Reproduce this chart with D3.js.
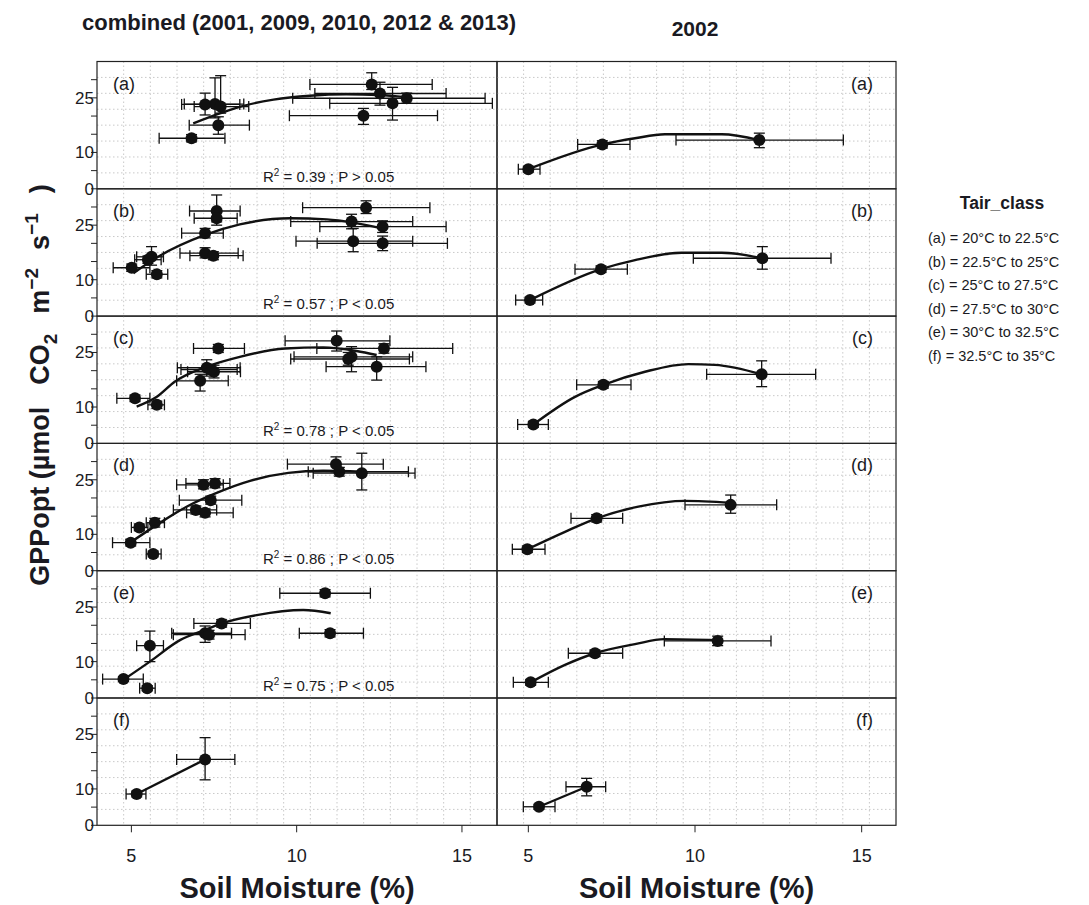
<!DOCTYPE html>
<html><head><meta charset="utf-8">
<script src="https://cdn.jsdelivr.net/npm/d3@7"></script>
<style>
body{margin:0;background:#fff}
text{font-family:Arial,"Liberation Sans",Helvetica,sans-serif;fill:#1a1a22}
</style>
</head><body><svg id="c" width="1089" height="905"></svg>
<script>
// ---------------- DATA ----------------
const classLabels = ["(a)","(b)","(c)","(d)","(e)","(f)"];
const legendLabels = ["(a) = 20°C to 22.5°C","(b) = 22.5°C to 25°C","(c) = 25°C to 27.5°C",
                      "(d) = 27.5°C to 30°C","(e) = 30°C to 32.5°C","(f) = 32.5°C to 35°C"];
const r2Values = ["0.39","0.57","0.78","0.86","0.75",null];
const pValues  = ["P > 0.05","P < 0.05","P < 0.05","P < 0.05","P < 0.05",null];
const xTickValues = [5,10,15];
const yTickValues = [0,5,10,15,20,25,30];
const yTickLabels = [0,10,25];

// combined (2001, 2009, 2010, 2012 & 2013)
const combSM = [
 [12.27,12.52,13.33,12.90,12.02,7.23,7.53,7.70,7.63,6.82],
 [5.01,5.61,5.77,5.50,7.23,7.58,7.58,7.23,7.48,12.10,11.66,12.60,11.71,12.60],
 [5.11,5.77,7.63,7.08,7.28,7.50,7.40,11.21,12.64,11.66,11.56,12.42],
 [4.98,5.24,5.71,5.66,7.18,7.53,7.40,6.95,7.23,11.19,11.29,11.97],
 [4.76,5.48,5.56,7.23,7.35,7.73,10.86,11.01],
 [5.16,7.23]
];
const combGPP = [
 [28.7,26.2,24.9,23.5,20.1,23.2,23.3,22.6,17.5,13.9],
 [13.3,16.3,11.5,15.5,22.8,28.9,26.9,17.3,16.6,29.8,26.0,24.6,20.6,20.0],
 [12.4,10.6,26.1,17.2,20.8,19.7,20.3,28.2,26.1,23.8,23.2,21.1],
 [7.7,11.9,13.2,4.6,23.6,24.0,19.4,16.7,15.9,29.3,27.2,26.8],
 [5.2,2.7,14.4,17.8,17.4,20.5,28.8,17.8],
 [8.6,18.1]
];
const combSMlo = [
 [10.40,10.55,9.88,11.00,9.78,6.52,6.60,6.90,6.75,5.84],
 [4.45,5.16,5.45,5.10,6.52,6.76,6.90,6.47,6.77,10.18,9.82,10.70,9.98,10.62],
 [4.56,5.50,6.88,6.37,6.39,6.70,6.50,9.65,10.61,9.92,9.82,10.89],
 [4.43,5.00,5.45,5.45,6.37,6.65,6.45,6.27,6.67,9.72,10.35,10.50],
 [4.13,5.25,5.16,6.22,6.27,6.89,9.49,10.08],
 [4.84,6.37]
];
const combSMhi = [
 [14.10,14.52,15.70,15.92,14.26,8.28,8.40,8.55,8.57,7.83],
 [5.56,5.97,6.10,5.90,7.78,8.29,8.20,8.23,8.38,14.03,13.51,14.52,13.51,14.56],
 [5.56,6.00,8.42,7.93,8.29,8.30,8.20,12.82,14.72,13.51,13.41,13.91],
 [5.56,5.50,6.00,5.90,7.78,7.98,8.34,7.58,8.08,12.62,13.38,13.58],
 [5.36,5.72,5.97,8.03,8.44,8.60,12.23,12.02],
 [5.44,8.13]
];
const combGPPlo = [
 [27.3,23.0,23.5,18.9,17.7,20.3,19.5,20.8,15.0,12.9],
 [12.3,14.0,10.5,14.5,21.5,25.9,25.0,16.0,15.5,28.2,24.0,23.0,17.7,18.0],
 [11.5,9.6,25.0,14.4,18.5,18.0,19.0,25.4,24.8,19.7,21.5,17.4],
 [6.8,11.0,12.0,3.8,22.5,22.8,18.3,15.6,14.8,27.2,26.0,22.2],
 [4.5,2.0,10.0,15.3,16.2,19.5,27.8,16.8],
 [7.8,12.5]
];
const combGPPhi = [
 [31.9,29.3,26.3,27.9,22.1,26.3,30.5,31.1,19.8,14.9],
 [14.3,19.1,12.5,16.5,24.1,33.3,28.5,18.8,17.7,31.7,28.0,26.2,24.1,22.0],
 [13.3,11.6,27.2,19.0,23.0,21.5,21.6,30.9,27.4,26.6,25.0,23.8],
 [8.6,12.8,14.4,5.4,25.0,25.3,20.5,17.8,17.0,31.3,28.4,32.3],
 [5.9,3.4,18.4,19.8,18.6,21.5,29.8,18.8],
 [9.4,24.1]
];
const combFitSM = [
 [6.87,7.7,8.3,9.3,10.4,11.5,12.5,13.3],
 [5.06,5.77,7.23,8.28,9.80,10.91,11.71,12.57],
 [5.16,5.77,6.32,7.28,8.28,9.65,10.80,11.81,12.42],
 [5.01,5.77,6.67,7.58,8.59,9.75,10.80,11.97],
 [4.76,5.56,6.47,7.23,7.73,8.79,10.20,11.03],
 [5.16,7.23]
];
const combFitGPP = [
 [18.0,20.8,22.6,24.5,25.6,26.0,25.8,25.2],
 [11.8,16.1,22.3,25.2,26.9,26.6,25.7,24.1],
 [10.1,12.8,17.0,21.1,23.8,26.1,26.4,25.4,24.3],
 [8.0,12.6,17.6,21.4,24.7,26.9,27.5,27.2],
 [5.0,10.0,15.9,18.7,20.5,22.8,24.2,23.3],
 [8.6,18.1]
];

// 2002
const y02SM     = [[5.00,7.22,11.93],[5.05,7.18,12.02],[5.15,7.25,12.00],[4.97,7.05,11.07],[5.07,7.00,10.68],[5.32,6.75]];
const y02GPP    = [[5.4,12.2,13.4],[4.4,12.9,15.9],[5.2,16.1,19.0],[5.9,14.4,18.1],[4.3,12.3,15.7],[5.1,10.6]];
const y02SMlo   = [[4.70,6.48,9.43],[4.62,6.40,9.95],[4.68,6.45,10.35],[4.52,6.28,9.70],[4.55,6.20,9.08],[4.85,6.13]];
const y02SMhi   = [[5.35,8.05,14.45],[5.43,7.97,14.08],[5.60,8.08,13.62],[5.50,7.83,12.45],[5.60,7.83,12.28],[5.80,7.32]];
const y02GPPlo  = [[4.6,11.2,11.3],[3.6,12.0,12.9],[4.4,15.2,15.6],[5.0,13.4,15.8],[3.5,11.4,14.4],[4.4,8.1]];
const y02GPPhi  = [[6.2,13.2,15.3],[5.2,13.8,19.1],[6.0,17.0,22.7],[6.8,15.4,20.8],[5.1,13.2,17.0],[5.8,12.9]];
const y02FitSM  = [
 [5.00,7.22,8.2,9.1,10.8,11.93],
 [5.05,7.18,8.2,9.6,10.8,12.02],
 [5.15,6.4,7.25,8.5,9.8,10.6,12.0],
 [4.97,6.10,7.05,8.30,9.70,11.07],
 [5.07,6.10,7.00,8.20,9.08,10.68],
 [5.32,6.75]
];
const y02FitGPP = [
 [5.4,12.2,13.9,15.0,15.0,13.4],
 [4.4,12.9,15.4,17.4,17.4,15.9],
 [5.2,12.8,16.1,19.7,21.8,21.6,19.0],
 [5.9,10.7,14.4,17.6,19.2,18.7],
 [4.3,9.1,12.3,14.8,16.2,15.9],
 [5.1,10.6]
];

// ---------------- LAYOUT ----------------
const svg = d3.select("#c");
const colX = [[97,497],[497,896]];
const xDomains = [[3.96,16.06],[4.06,16.03]];
const top0 = 61.5, rowH = 127.3;
const ink = "#111";

const columns = [
  {sm:combSM,gpp:combGPP,smLo:combSMlo,smHi:combSMhi,gLo:combGPPlo,gHi:combGPPhi,fx:combFitSM,fy:combFitGPP},
  {sm:y02SM,gpp:y02GPP,smLo:y02SMlo,smHi:y02SMhi,gLo:y02GPPlo,gHi:y02GPPhi,fx:y02FitSM,fy:y02FitGPP}
];

columns.forEach((col, c) => {
  const x = d3.scaleLinear().domain(xDomains[c]).range(colX[c]);
  for (let r = 0; r < 6; r++) {
    const y = d3.scaleLinear().domain([0,35]).range([top0+(r+1)*rowH, top0+r*rowH]);
    const g = svg.append("g");
    const [x0,x1] = colX[c];
    const yb = top0+(r+1)*rowH, yt = top0+r*rowH;
    // grid
    const gg = g.append("g").attr("stroke","#c9c9c9").attr("stroke-width",1).attr("stroke-dasharray","1.5,2.5");
    d3.range(1,15).forEach(k=>{
      const px = x0 + k*(x1-x0)/15;
      gg.append("line").attr("x1",px).attr("x2",px).attr("y1",yt).attr("y2",yb);
    });
    d3.range(1,8).forEach(k=>{
      const py = y(k*35/8);
      gg.append("line").attr("x1",x0).attr("x2",x1).attr("y1",py).attr("y2",py);
    });
    // data
    const pts = col.sm[r].map((v,i)=>({sm:v,gpp:col.gpp[r][i],sl:col.smLo[r][i],sh:col.smHi[r][i],gl:col.gLo[r][i],gh:col.gHi[r][i]}));
    const cap = 5.5;
    const eb = g.append("g").attr("stroke",ink).attr("stroke-width",1.3).attr("fill","none");
    pts.forEach(p=>{
      const cx = x(p.sm), cy = y(p.gpp);
      eb.append("line").attr("x1",x(p.sl)).attr("x2",x(p.sh)).attr("y1",cy).attr("y2",cy);
      eb.append("line").attr("x1",x(p.sl)).attr("x2",x(p.sl)).attr("y1",cy-cap).attr("y2",cy+cap);
      eb.append("line").attr("x1",x(p.sh)).attr("x2",x(p.sh)).attr("y1",cy-cap).attr("y2",cy+cap);
      eb.append("line").attr("x1",cx).attr("x2",cx).attr("y1",y(p.gl)).attr("y2",y(p.gh));
      eb.append("line").attr("x1",cx-cap).attr("x2",cx+cap).attr("y1",y(p.gl)).attr("y2",y(p.gl));
      eb.append("line").attr("x1",cx-cap).attr("x2",cx+cap).attr("y1",y(p.gh)).attr("y2",y(p.gh));
    });
    g.selectAll("circle.pt").data(pts).join("circle")
      .attr("cx",d=>x(d.sm)).attr("cy",d=>y(d.gpp)).attr("r",6).attr("fill",ink);
    // fit line
    const fit = col.fx[r].map((v,i)=>[v,col.fy[r][i]]);
    g.append("path").attr("d", d3.line().x(d=>x(d[0])).y(d=>y(d[1])).curve(d3.curveMonotoneX)(fit))
      .attr("fill","none").attr("stroke",ink).attr("stroke-width",2.4);
    // border
    g.append("rect").attr("x",x0).attr("y",yt).attr("width",x1-x0).attr("height",rowH)
      .attr("fill","none").attr("stroke","#222").attr("stroke-width",1.2);
    // panel label
    if (c===0) {
      g.append("text").attr("x",x0+16).attr("y",yt+28).attr("font-size",18).text(classLabels[r]);
    } else {
      g.append("text").attr("x",x1-23).attr("y",yt+28).attr("font-size",18).attr("text-anchor","end").text(classLabels[r]);
    }
    // R2 label
    if (c===0 && r2Values[r]) {
      const t = g.append("text").attr("x",263).attr("y",yb-7).attr("font-size",15);
      t.append("tspan").text("R");
      t.append("tspan").attr("dy",-6).attr("font-size",10).text("2");
      t.append("tspan").attr("dy",6).text(" = " + r2Values[r] + " ; " + pValues[r]);
    }
    // y axis (left column)
    if (c===0) {
      const ax = g.append("g");
      yTickValues.forEach(v=>{
        ax.append("line").attr("x1",x0).attr("x2",x0-6).attr("y1",y(v)).attr("y2",y(v)).attr("stroke","#222");
      });
      yTickLabels.forEach(v=>{
        ax.append("text").attr("x",x0-3).attr("y",y(v)+6).attr("text-anchor","end").attr("font-size",17).text(v);
      });
    }
    // x axis (bottom row)
    if (r===5) {
      const ax = g.append("g");
      xTickValues.forEach(v=>{
        ax.append("line").attr("x1",x(v)).attr("x2",x(v)).attr("y1",yb).attr("y2",yb+7).attr("stroke","#222");
        ax.append("text").attr("x",x(v)).attr("y",yb+37).attr("text-anchor","middle").attr("font-size",18).text(v);
      });
      ax.append("text").attr("x",(x0+x1)/2).attr("y",898).attr("text-anchor","middle")
        .attr("font-size",29).attr("font-weight","bold").text("Soil Moisture (%)");
    }
  }
});

// titles
svg.append("text").attr("x",82).attr("y",30).attr("font-size",22).attr("font-weight","bold")
  .text("combined (2001, 2009, 2010, 2012 & 2013)");
svg.append("text").attr("x",695).attr("y",36).attr("font-size",21).attr("font-weight","bold")
  .attr("text-anchor","middle").text("2002");

// y title
const ytl = svg.append("text").attr("transform","translate(49,385) rotate(-90)")
  .attr("text-anchor","middle").attr("font-size",27).attr("font-weight","bold");
ytl.append("tspan").text("GPPopt (µmol");
ytl.append("tspan").attr("dx",22).text("CO");
ytl.append("tspan").attr("dy",8).attr("font-size",19).text("2");
ytl.append("tspan").attr("dy",-8).attr("dx",20).text("m");
ytl.append("tspan").attr("dy",-11).attr("font-size",19).text("−2");
ytl.append("tspan").attr("dy",11).attr("dx",18).text("s");
ytl.append("tspan").attr("dy",-11).attr("font-size",19).text("−1");
ytl.append("tspan").attr("dy",11).attr("dx",20).text(")");

// legend
svg.append("text").attr("x",1002).attr("y",209).attr("text-anchor","middle").attr("font-size",17.5)
  .attr("font-weight","bold").text("Tair_class");
legendLabels.forEach((l,i)=>{
  svg.append("text").attr("x",928).attr("y",243+i*23.5).attr("font-size",14.5).text(l);
});
</script>
</body></html>
